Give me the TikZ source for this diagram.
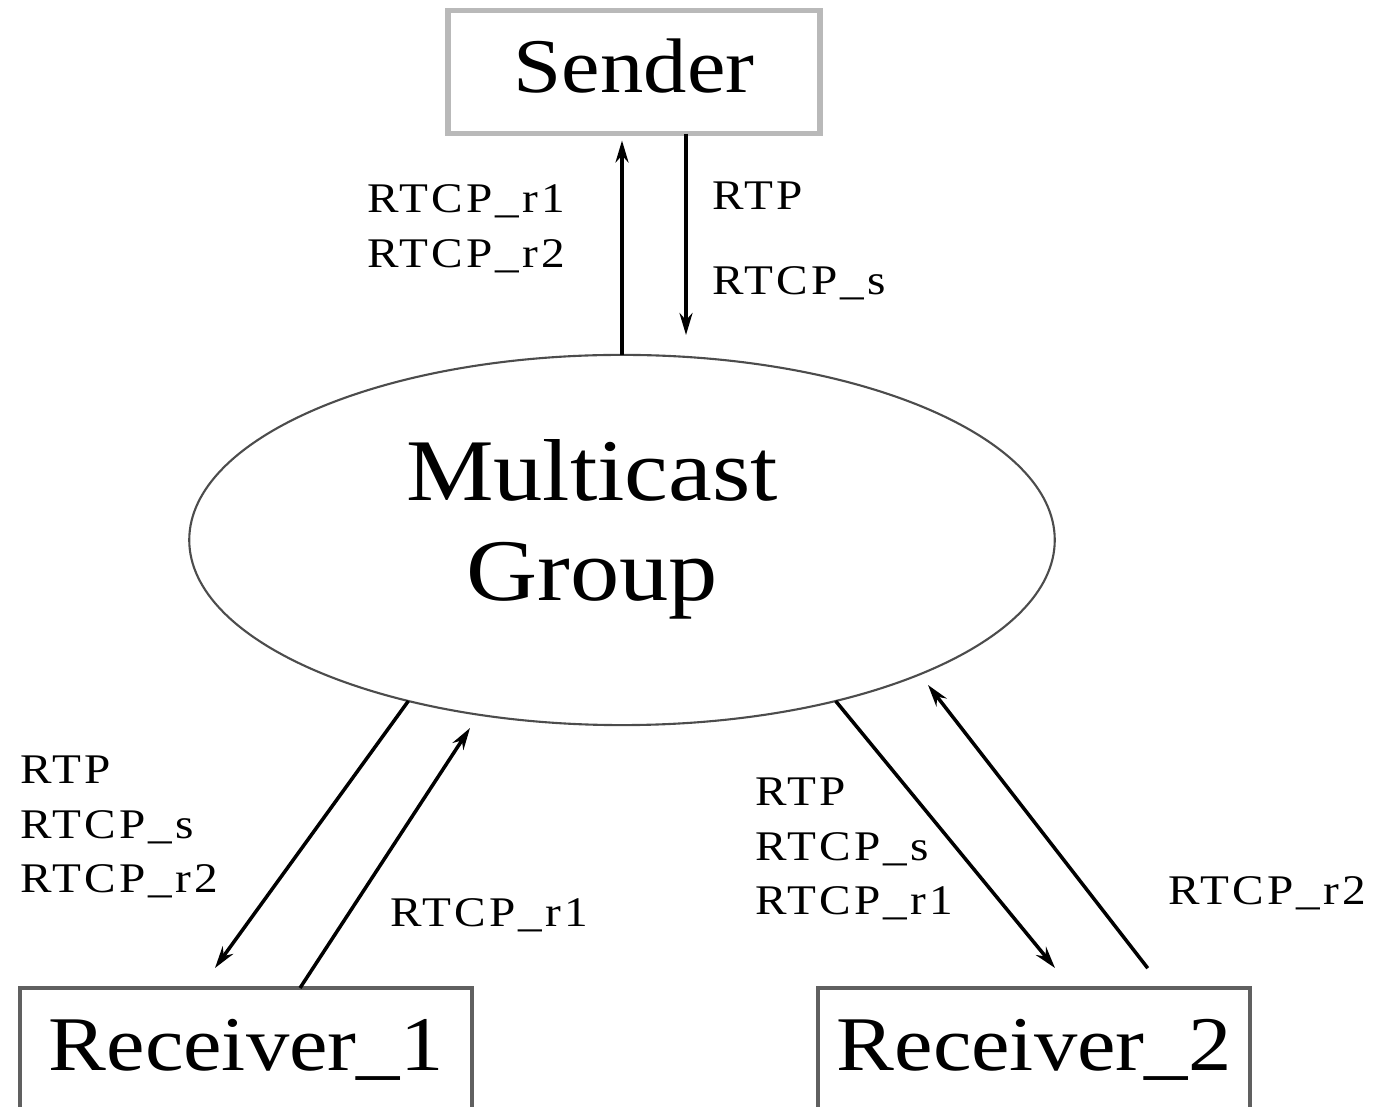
\documentclass[tikz,border=0pt]{standalone}
\usepackage{fontspec}
\setmainfont{Liberation Serif}[FakeStretch=1.12]
\newfontfamily\lblfont{Liberation Serif}[FakeStretch=1.12,LetterSpace=8]
\usetikzlibrary{arrows.meta,shapes.geometric,positioning}

\begin{document}
\begin{tikzpicture}[->,>={Stealth[length=0.22cm,width=0.13cm]}, line width=1pt, x=0.01cm, y=-0.01cm, inner sep=0pt, outer sep=0pt]
	\tikzset{box/.style={rectangle,draw=gray!75!black,line width=1.1pt,font=\fontsize{22}{26}\selectfont}}
	\tikzstyle{lbl}=[anchor=west,align=left,font=\lblfont\fontsize{12}{15.5}\selectfont]

	\useasboundingbox (0,0) rectangle (1373,1107);

	%NODOS
	\node[box,draw=gray!55,line width=1.5pt,minimum width=3.72cm,minimum height=1.23cm,text depth=0.12cm] (sender) at (634,72) {Sender};
	\node[ellipse,draw=gray!60!black,line width=0.6pt,minimum width=8.65cm,minimum height=3.70cm,text depth=0.4cm,
		align=center,font=\fontsize{25}{28.5}\selectfont] (group) at (622,540) {Multicast\hspace*{0.6cm}\\Group\hspace*{0.6cm}};
	\node[box,minimum width=4.52cm,minimum height=1.64cm,text depth=0.5cm] (rec1) at (246,1070) {Receiver\_1};
	\node[box,minimum width=4.32cm,minimum height=1.64cm,text depth=0.5cm] (rec2) at (1034,1070) {Receiver\_2};

	\coordinate (sd) at (686,335);
	\coordinate (r1in) at (215,968);
	\coordinate (g1) at (470,728);
	\coordinate (r2in) at (1055,968);
	\coordinate (g2) at (928,685);

	%FLECHAS
	\draw[shorten >=0.07cm] (group.north) -- (group.north |- sender.south);
	\draw (sender.south -| sd) -- (sd);
	\draw (group.217) -- (r1in);
	\draw ([xshift=0.54cm]rec1.north) -- (g1);
	\draw (group.-37) -- (r2in);
	\draw[shorten <=0.25cm] ([xshift=1.29cm]rec2.north) -- (g2);

	%ETIQUETAS
	\node[lbl] (lsu) at (367,229) {RTCP\_r1\\RTCP\_r2};
	\node[lbl] (lsd) at (712,241) {RTP\\[0.3cm]RTCP\_s};
	\node[lbl] (l1d) at (20,827) {RTP\\RTCP\_s\\RTCP\_r2};
	\node[lbl] (l1u) at (390,915) {RTCP\_r1};
	\node[lbl] (l2d) at (755,849) {RTP\\RTCP\_s\\RTCP\_r1};
	\node[lbl] (l2u) at (1168,893) {RTCP\_r2};
\end{tikzpicture}
\end{document}
